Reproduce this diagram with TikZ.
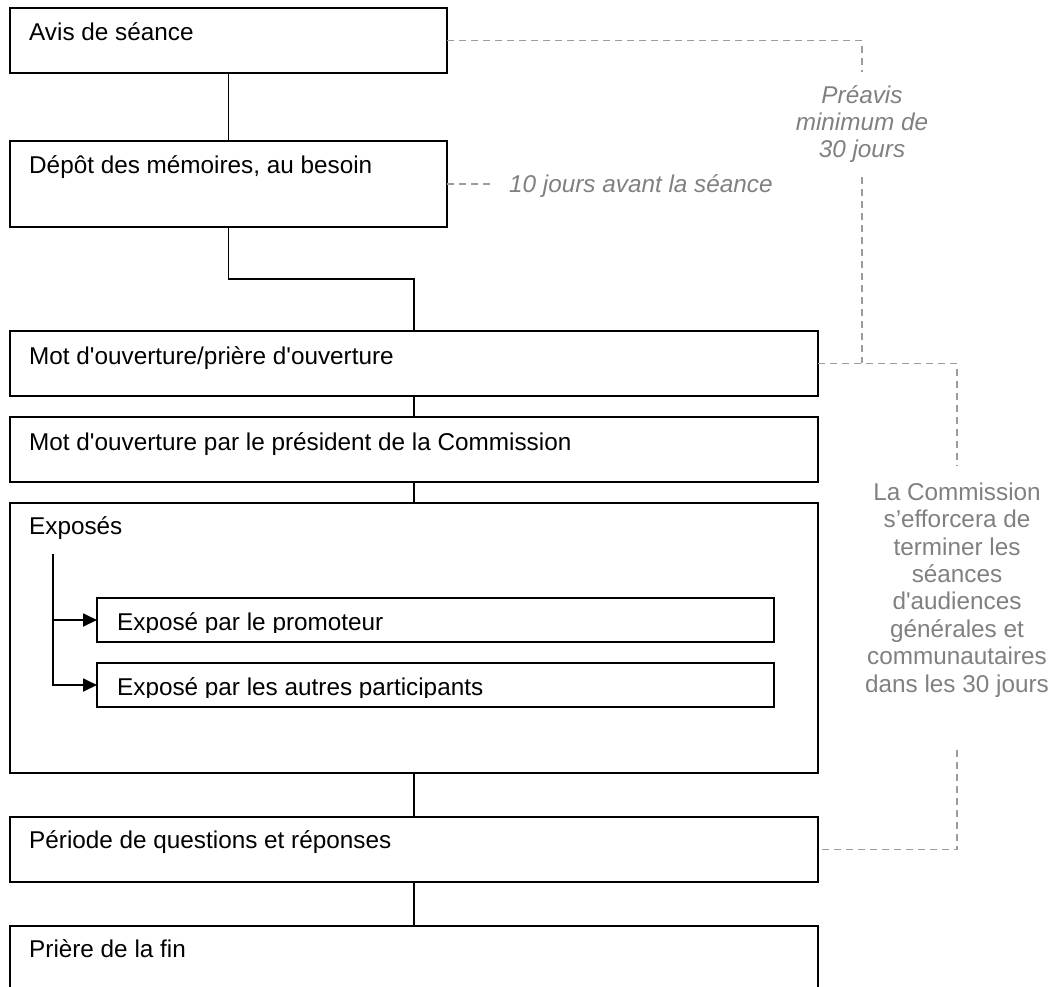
\documentclass[tikz,border=0pt]{standalone}
\usepackage{fontspec}
\setmainfont{Liberation Sans}
\usetikzlibrary{arrows.meta}
\definecolor{dgray}{HTML}{9C9C9C}
\definecolor{tgray}{HTML}{808080}
\newcommand{\sq}{\textquotesingle}
\begin{document}
\begin{tikzpicture}[x=1pt,y=-1pt,
  box/.style={draw=black,line width=2pt,rectangle,anchor=north west,inner sep=0pt,outer sep=0pt},
  lbl/.style={anchor=base west,inner sep=0pt,font=\fontsize{24.3pt}{27.5pt}\selectfont},
  link/.style={draw=black,line width=1.8pt},
  dashline/.style={draw=dgray,line width=1.8pt,dash pattern=on 7pt off 5pt},
  note/.style={text=tgray,inner sep=0pt,align=center,font=\fontsize{24.3pt}{27.4pt}\selectfont},
  tip/.style={-{Triangle[length=14pt,width=13pt]}}
]
\useasboundingbox (0,0) rectangle (1055,986);
\clip (0,0) rectangle (1055,986);

% boxes
\node[box,minimum width=437pt,minimum height=65pt] (b1) at (10,8) {};
\node[box,minimum width=437pt,minimum height=86pt] (b2) at (10,141) {};
\node[box,minimum width=808pt,minimum height=65pt] (b3) at (10,331) {};
\node[box,minimum width=808pt,minimum height=65pt] (b4) at (10,417) {};
\node[box,minimum width=808pt,minimum height=270pt] (b5) at (10,503) {};
\node[box,minimum width=677pt,minimum height=44pt] (s1) at (97,598) {};
\node[box,minimum width=677pt,minimum height=44pt] (s2) at (97,663) {};
\node[box,minimum width=808pt,minimum height=65pt] (b6) at (10,817) {};
\node[box,minimum width=808pt,minimum height=100pt] (b7) at (10,926) {};

% labels
\node[lbl] (t1) at (29,40) {Avis de séance};
\node[lbl] (t2) at (29,173) {Dépôt des mémoires, au besoin};
\node[lbl] (t3) at (29,364) {Mot d\sq ouverture/prière d\sq ouverture};
\node[lbl] (t4) at (29,450) {Mot d\sq ouverture par le président de la Commission};
\node[lbl] (t5) at (29,534) {Exposés};
\begin{scope}
  \clip (97,598) rectangle (774,632);
  \node[lbl] (u1) at (117,630) {Exposé par le promoteur};
\end{scope}
\begin{scope}
  \clip (97,663) rectangle (774,697);
  \node[lbl] (u2) at (117,695) {Exposé par les autres participants};
\end{scope}
\node[lbl] (t6) at (29,848) {Période de questions et réponses};
\node[lbl] (t7) at (29,957) {Prière de la fin};

% connectors
\coordinate (m1) at (414,279);
\coordinate (e0) at (53,554);
\draw[link] (b1.south) -- (b2.north);
\draw[link] (b2.south) |- (m1) -- (b3.north);
\draw[link] (b3.south) -- (b4.north);
\draw[link] (b4.south) -- (b5.north);
\draw[link,tip] (e0) |- (s1.west);
\draw[link,tip] (e0) |- (s2.west);
\draw[link] (b5.south) -- (b6.north);
\draw[link] (b6.south) -- (b7.north);

% notes
\node[note,font=\fontsize{24.3pt}{27pt}\selectfont\itshape] (pre) at (862,124) {Préavis\\minimum de\\30 jours};
\node[note,anchor=base west,font=\fontsize{24.3pt}{27pt}\selectfont\itshape] (dix) at (509,192) {10 jours avant la séance};
\node[note] (com) at (957,590) {La Commission\\s’efforcera de\\terminer les\\séances\\d\sq audiences\\générales et\\communautaires\\dans les 30 jours};

% dashed links
\coordinate (p1a) at (862,72);
\coordinate (p1b) at (862,177);
\coordinate (j1) at (862,363);
\coordinate (d1) at (492,184);
\coordinate (c1) at (957,466);
\coordinate (c2) at (957,750);
\draw[dashline] (b1.east) -| (p1a);
\draw[dashline] (p1b) -- (j1);
\draw[dashline] (b2.east) -- (d1);
\draw[dashline] (b3.east) -| (c1);
\draw[dashline] (c2) |- (b6.east);
\end{tikzpicture}
\end{document}
